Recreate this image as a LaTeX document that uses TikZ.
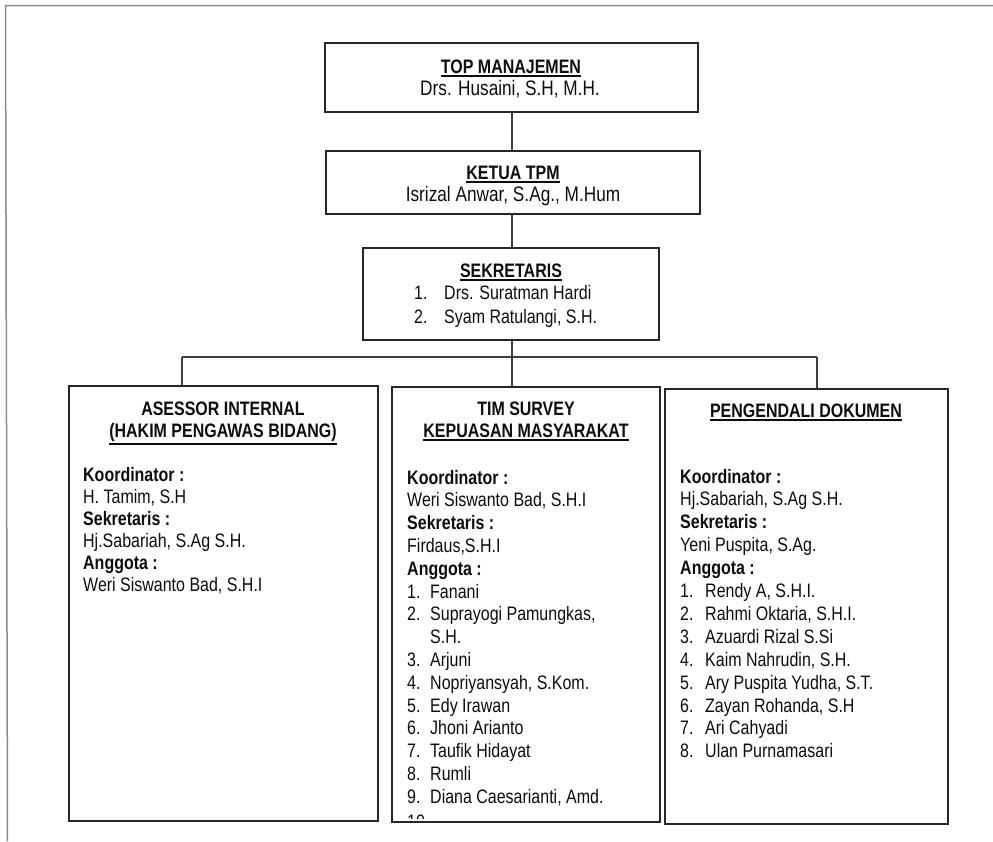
\documentclass[tikz,border=0pt]{standalone}
\usepackage{fontspec}
\setmainfont[FakeStretch=0.82]{Liberation Sans}
\newcommand{\ulx}[1]{\leavevmode\vtop{\hbox{#1}\kern2.2pt\hrule height 1.4pt}}
\begin{document}
\begin{tikzpicture}[x=1pt,y=-1pt,
  box/.style={draw=black!85, line width=2.8pt, inner sep=0pt},
  link/.style={draw=black!75, line width=1.1pt},
  txt/.style={anchor=base west, inner sep=0pt, text=black!95, font=\fontsize{19.5}{22}\selectfont},
  big/.style={anchor=base, inner sep=0pt, text=black!95, font=\fontsize{21}{24}\selectfont},
  ttl/.style={anchor=base, inner sep=0pt, text=black!95, font=\fontsize{19.5}{22}\selectfont\bfseries}]
\useasboundingbox (0,0) rectangle (993,841);
\draw[black!45, line width=1.5pt] (993,5.5) -- (5.5,5.5) -- (7.5,841);

% upper boxes
\node[box, minimum width=373pt, minimum height=69pt] (top) at (511.5,77.5) {};
\node[ttl] (topT) at (511,73) {\ulx{TOP MANAJEMEN}};
\node[big] (topN) at (510,95) {Drs. Husaini, S.H, M.H.};

\node[box, minimum width=374pt, minimum height=63pt] (ketua) at (513,182.5) {};
\node[ttl] (ketT) at (513,179) {\ulx{KETUA TPM}};
\node[big] (ketN) at (513,201) {Isrizal Anwar, S.Ag., M.Hum};

\node[box, minimum width=296pt, minimum height=92pt] (sek) at (511,294) {};
\node[ttl] (sekT) at (511,277) {\ulx{SEKRETARIS}};
\node[txt] (sekN1) at (414,299) {1.};
\node[txt] (sekM1) at (444,299) {Drs. Suratman Hardi};
\node[txt] (sekN2) at (414,323) {2.};
\node[txt] (sekM2) at (444,323) {Syam Ratulangi, S.H.};

% lower boxes
\node[box, minimum width=309pt, minimum height=435pt] (left) at (223.5,603.5) {};
\node[box, minimum width=268pt, minimum height=435pt] (mid) at (526,604.5) {};
\node[box, minimum width=283pt, minimum height=435pt] (right) at (806.5,606.5) {};

% connectors
\coordinate (bL) at (182,357);
\coordinate (bM) at (512,357);
\coordinate (bR) at (817,357);
\draw[link] (top.south -| bM) -- (ketua.north -| bM);
\draw[link] (ketua.south -| bM) -- (sek.north -| bM);
\draw[link] (sek.south -| bM) -- (bM);
\draw[link] (bL) -- (bR);
\draw[link] (bL) -- (bL |- left.north);
\draw[link] (bM) -- (bM |- mid.north);
\draw[link] (bR) -- (bR |- right.north);

% left box text
\node[ttl] (lT1) at (223,415) {ASESSOR INTERNAL};
\node[ttl] (lT2) at (223,437) {\ulx{(HAKIM PENGAWAS BIDANG)}};
\foreach \t [count=\i from 0] in {\textbf{Koordinator :}, {H. Tamim, S.H}, \textbf{Sekretaris :}, {Hj.Sabariah, S.Ag S.H.}, \textbf{Anggota :}, {Weri Siswanto Bad, S.H.I}}
  \node[txt] (a\i) at (83,481+22*\i) {\t};

% middle box text
\node[ttl] (mT1) at (526,415) {TIM SURVEY};
\node[ttl] (mT2) at (526,437) {\ulx{KEPUASAN MASYARAKAT}};
\foreach \t [count=\i from 0] in {\textbf{Koordinator :}, {Weri Siswanto Bad, S.H.I}, \textbf{Sekretaris :}, {Firdaus,S.H.I}, \textbf{Anggota :}}
  \node[txt] (b\i) at (407,484+22.8*\i) {\t};
\foreach \n/\t/\k in {1./Fanani/5, 2./{Suprayogi Pamungkas,}/6, /{S.H.}/7, 3./Arjuni/8, 4./{Nopriyansyah, S.Kom.}/9, 5./Edy Irawan/10, 6./Jhoni Arianto/11, 7./Taufik Hidayat/12, 8./Rumli/13, 9./{Diana Caesarianti, Amd.}/14}{
  \node[txt] (bn\k) at (407,484+22.8*\k) {\n};
  \node[txt] (bt\k) at (430,484+22.8*\k) {\t};
}
\begin{scope}
\clip (393.5,388.5) rectangle (658.5,818.5);
\node[txt] (bn15) at (407,828) {10.};
\end{scope}

% right box text
\node[ttl] (rT) at (806,417) {\ulx{PENGENDALI DOKUMEN}};
\foreach \t [count=\i from 0] in {\textbf{Koordinator :}, {Hj.Sabariah, S.Ag S.H.}, \textbf{Sekretaris :}, {Yeni Puspita, S.Ag.}, \textbf{Anggota :}}
  \node[txt] (c\i) at (680,483+22.9*\i) {\t};
\foreach \n/\t/\k in {1./{Rendy A, S.H.I.}/5, 2./{Rahmi Oktaria, S.H.I.}/6, 3./{Azuardi Rizal S.Si}/7, 4./{Kaim Nahrudin, S.H.}/8, 5./{Ary Puspita Yudha, S.T.}/9, 6./{Zayan Rohanda, S.H}/10, 7./Ari Cahyadi/11, 8./Ulan Purnamasari/12}{
  \node[txt] (cn\k) at (680,483+22.9*\k) {\n};
  \node[txt] (ct\k) at (705,483+22.9*\k) {\t};
}
\end{tikzpicture}
\end{document}
